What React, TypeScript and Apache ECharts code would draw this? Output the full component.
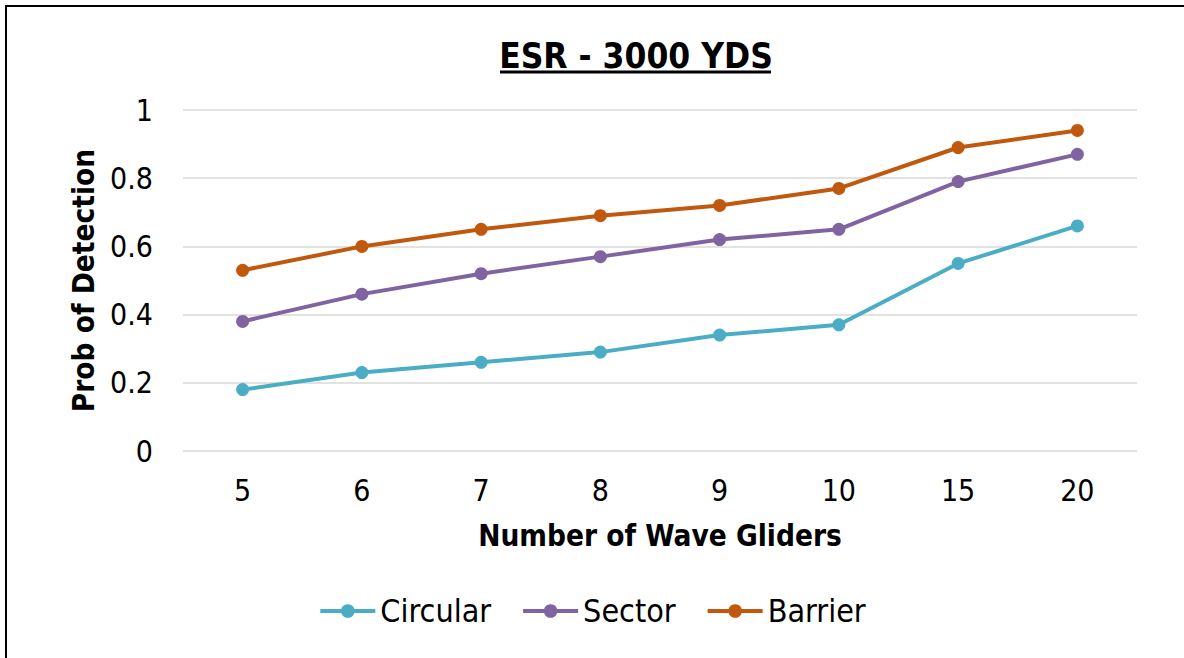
import React, { useEffect, useRef } from "react";
import * as echarts from "echarts";

const categories = ["5", "6", "7", "8", "9", "10", "15", "20"];
const circular = [0.18, 0.23, 0.26, 0.29, 0.34, 0.37, 0.55, 0.66];
const sector = [0.38, 0.46, 0.52, 0.57, 0.62, 0.65, 0.79, 0.87];
const barrier = [0.53, 0.6, 0.65, 0.69, 0.72, 0.77, 0.89, 0.94];
const seriesNames = ["Circular", "Sector", "Barrier"];
const colors = ["#4BACC6", "#8064A2", "#C0590E"];
const titleText = "ESR - 3000 YDS";
const xName = "Number of Wave Gliders";
const yName = "Prob of Detection";

const FONT = "'DejaVu Sans Condensed', 'DejaVu Sans', sans-serif";

export default function App() {
  const ref = useRef<HTMLDivElement>(null);
  useEffect(() => {
    document.body.style.margin = "0";
    const chart = echarts.init(ref.current!, null, { renderer: "svg" });
    const data = [circular, sector, barrier];
    chart.setOption({
      animation: false,
      backgroundColor: "#ffffff",
      textStyle: { fontFamily: FONT },
      graphic: [
        {
          type: "rect",
          shape: { x: 6, y: 6, width: 1300, height: 800 },
          style: { fill: "none", stroke: "#000", lineWidth: 2 },
          silent: true,
        },
        {
          type: "text",
          x: 636,
          y: 56,
          style: {
            text: titleText,
            fontFamily: FONT,
            fontWeight: "bold",
            fontSize: 35,
            fill: "#000",
            align: "center",
            verticalAlign: "middle",
          },
        },
        {
          type: "line",
          shape: { x1: 500, y1: 72, x2: 771, y2: 72 },
          style: { stroke: "#000", lineWidth: 3 },
        },
      ],
      legend: {
        bottom: 26,
        left: "center",
        itemWidth: 55,
        itemHeight: 17,
        itemGap: 30,
        data: seriesNames,
        lineStyle: { width: 4 },
        textStyle: { fontSize: 32, color: "#000", fontFamily: FONT },
      },
      grid: { left: 183, right: 47, top: 110, bottom: 207 },
      xAxis: {
        type: "category",
        data: categories,
        boundaryGap: true,
        axisLine: { show: false },
        axisTick: { show: false },
        axisLabel: { fontSize: 30, color: "#000", margin: 24, fontFamily: FONT },
        name: xName,
        nameLocation: "middle",
        nameGap: 70,
        nameTextStyle: { fontSize: 29.5, fontWeight: "bold", color: "#000", fontFamily: FONT },
      },
      yAxis: {
        type: "value",
        min: 0,
        max: 1,
        interval: 0.2,
        axisLine: { show: false },
        axisTick: { show: false },
        splitLine: { lineStyle: { color: "#D9D9D9", width: 1.5 } },
        axisLabel: { fontSize: 30, color: "#000", margin: 30, fontFamily: FONT },
        name: yName,
        nameLocation: "middle",
        nameGap: 84,
        nameRotate: 90,
        nameTextStyle: { fontSize: 29.5, fontWeight: "bold", color: "#000", fontFamily: FONT },
      },
      series: seriesNames.map((n, i) => ({
        name: n,
        type: "line",
        data: data[i],
        color: colors[i],
        symbol: "circle",
        symbolSize: 13,
        lineStyle: { width: 4, color: colors[i] },
        itemStyle: { color: colors[i] },
      })),
    });
    return () => chart.dispose();
  }, []);
  return <div ref={ref} style={{ position: "fixed", left: 0, top: 0, width: 1184, height: 658 }} />;
}
